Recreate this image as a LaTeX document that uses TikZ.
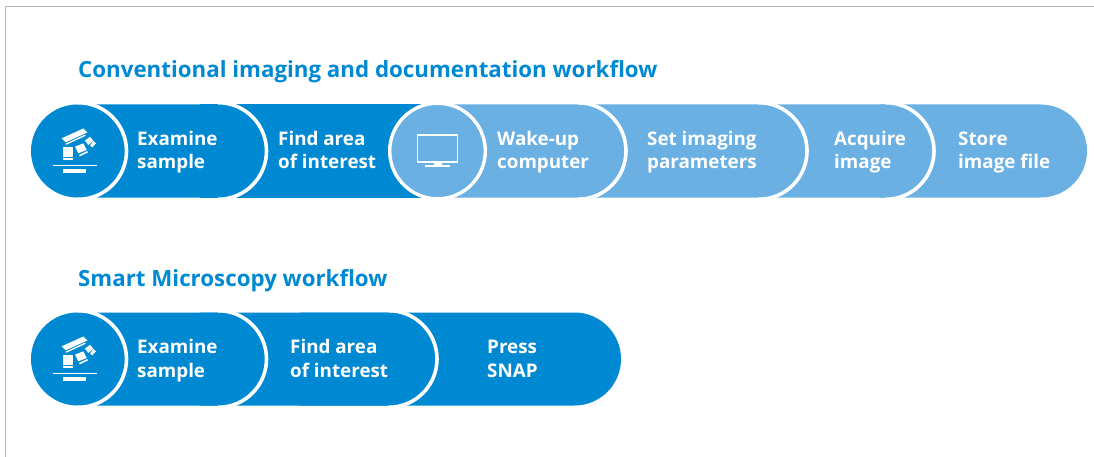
\documentclass[tikz,border=0pt]{standalone}
\usepackage{fontspec}
\setmainfont{Open Sans}
\definecolor{zdark}{HTML}{0089D3}
\definecolor{zlight}{HTML}{6BB0E2}
\definecolor{zframe}{HTML}{B4B4B4}
\newcommand{\zs}{\rule[-5pt]{0pt}{22pt}}
\tikzset{
  lbl/.style={text=white,font=\bfseries\fontsize{18.8}{24}\selectfont,align=left,anchor=west,inner sep=0pt},
  ttl/.style={text=zdark,font=\bfseries\fontsize{22.3}{26}\selectfont,anchor=base west,inner sep=0pt},
  arcw/.style={draw=white,line width=3.6pt},
  ico/.style={fill=white,draw=none},
}
% \zseg{left}{right end}{centre y}{colour}: bar with a round right end
\newcommand{\zseg}[4]{%
  \fill[#4] (#1,#3-46.5) -- (#2-46.5,#3-46.5) arc[start angle=-90,end angle=90,radius=46.5] -- (#1,#3+46.5) -- cycle;
}
% white edge just outside a round end, concentric with the bar
\newcommand{\zarc}[2]{%
  \draw[arcw] (#1-48.3,#2-48.3) arc[start angle=-90,end angle=90,radius=48.3];
}
\newcommand{\zscope}[1]{%
  \begin{scope}[shift={(0,#1-151)}]
    \fill[ico] (52.7,164.6) rectangle (96.7,166.1);
    \fill[ico] (63.3,169) rectangle (85.7,173.4);
    \fill[ico] (63.3,146.7) rectangle (72.7,156.7);
    \fill[ico] (63.3,157.8) rectangle (72.7,159.8);
    \fill[ico] (61.7,138.3) -- (83.3,128.5) -- (87.3,132.5) -- (65.7,142.3) -- cycle;
    \fill[ico] (65.7,143.6) -- (85,134.6) -- (85.6,135.8) -- (66.3,144.8) -- cycle;
    \fill[ico] (75,146.7) -- (83.3,143.3) -- (86.7,150) -- (78.3,153.3) -- cycle;
    \fill[ico] (79,155) -- (87.3,151) -- (88,152.4) -- (79.7,156.4) -- cycle;
    \fill[ico] (85,140.7) -- (90,136.7) -- (93.3,140.7) -- (88.3,145) -- cycle;
    \fill[ico] (90,145.7) -- (93.3,141) -- (96,143.3) -- (92.3,147.3) -- cycle;
  \end{scope}%
}
\begin{document}
\begin{tikzpicture}[x=1pt,y=-1pt]
\useasboundingbox (0,0) rectangle (1094,457);
\fill[white] (0,0) rectangle (1094,457);
\draw[zframe,line width=1pt] (5.5,457) -- (5.5,6.5) -- (1094,6.5);

% upper bar, drawn from right to left
\zseg{880}{1087}{151}{zlight}
\zseg{760}{934}{151}{zlight} \zarc{934}{151}
\zseg{590}{807}{151}{zlight} \zarc{807}{151}
\zseg{437.5}{626}{151}{zlight} \zarc{626}{151}
\fill[zdark] (200,104.5) rectangle (437.5,197.5);
\zseg{77.5}{266.5}{151}{zdark} \zarc{266.5}{151}
\fill[zdark] (77.5,151) circle[radius=46.5];
\zarc{126.5}{151}
\draw[fill=zlight,draw=white,line width=3.4pt] (437.5,151) circle[radius=47.8];
\zscope{151}
\draw[white,line width=1.6pt] (417.4,134.8) rectangle (457.3,162);
\fill[white] (433.5,162) rectangle (441.5,165.2);
\fill[white] (425,165.2) rectangle (450,166.8);

\node[ttl] (t1) at (78,78) {Conventional imaging and documentation workflow};
\node[ttl] (t2) at (78,286) {Smart Microscopy workflow};

\node[lbl] (a1) at (137,151) {\zs Examine\\\zs sample};
\node[lbl] (a2) at (278,151) {\zs Find area\\\zs of interest};
\node[lbl] (a3) at (497,151) {\zs Wake-up\\\zs computer};
\node[lbl] (a4) at (647,151) {\zs Set imaging\\\zs parameters};
\node[lbl] (a5) at (834,151) {\zs Acquire\\\zs image};
\node[lbl] (a6) at (958,151) {\zs Store\\\zs image file};

% lower bar
\zseg{300}{621}{359}{zdark}
\zseg{200}{437}{359}{zdark} \zarc{437}{359}
\zseg{77.5}{266.5}{359}{zdark} \zarc{266.5}{359}
\fill[zdark] (77.5,359) circle[radius=46.5];
\zarc{126.5}{359}
\zscope{359}

\node[lbl] (b1) at (137,359) {\zs Examine\\\zs sample};
\node[lbl] (b2) at (290,359) {\zs Find area\\\zs of interest};
\node[lbl] (b3) at (487,359) {\zs Press\\\zs SNAP};
\end{tikzpicture}
\end{document}
